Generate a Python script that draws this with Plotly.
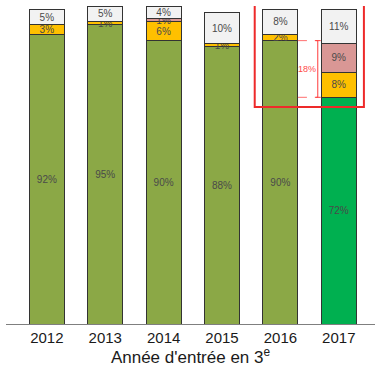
import plotly.graph_objects as go

# Year of entry into 3e
years = ["2012", "2013", "2014", "2015", "2016", "2017"]

# Share of each outcome per cohort (%)
main_old = [92, 95, 90, 88, 90, None]      # olive green (2012-2016)
main_new = [None, None, None, None, None, 72]  # bright green (2017)
yellow = [3, 1, 6, 1, 2, 8]
pink = [None, None, 1, None, None, 9]
white = [5, 5, 4, 10, 8, 11]

gap_top = 90      # 2016 main share
gap_bottom = 72   # 2017 main share
gap_label = "18%"

series = [
    (main_old, "#8BA846"),
    (main_new, "#00B050"),
    (yellow, "#FFC000"),
    (pink, "#D99795"),
    (white, "#F2F2F2"),
]

FONT = "Liberation Sans, Arial, sans-serif"

fig = go.Figure()
for vals, color in series:
    fig.add_trace(go.Bar(
        x=years, y=vals,
        marker=dict(color=color, line=dict(color="#333333", width=1)),
        width=0.6,
        text=[f"{v}%" if v is not None else "" for v in vals],
        textposition="inside",
        insidetextanchor="middle",
        textangle=0,
        textfont=dict(family=FONT, size=10, color="#4A4A4A"),
        cliponaxis=False,
        hoverinfo="skip",
        showlegend=False,
    ))

# Bracket showing the drop between 2016 and 2017
dash_col = "#FF6F6F"
x_left = 4.3
x_mid = 4.64
for yv in (gap_top, gap_bottom):
    fig.add_shape(type="line", x0=x_left, x1=x_mid, y0=yv, y1=yv,
                  line=dict(color=dash_col, width=1, dash="dash"))
fig.add_shape(type="line", x0=x_mid, x1=x_mid, y0=gap_bottom, y1=gap_top,
              line=dict(color="#FF3B3B", width=1))
for yv in (gap_top, gap_bottom):
    fig.add_shape(type="line", x0=x_mid - 0.05, x1=x_mid + 0.05, y0=yv, y1=yv,
                  line=dict(color="#FF3B3B", width=1))
fig.add_annotation(x=4.45, y=(gap_top + gap_bottom) / 2, text=gap_label,
                   showarrow=False,
                   font=dict(family=FONT, size=9, color="#FF4A4A"))

# Highlight frame around the last two cohorts
fig.add_shape(type="rect", x0=3.56, x1=5.43, y0=68.9, y1=101.3,
              line=dict(color="#EE2A2A", width=2))

fig.update_layout(
    barmode="stack",
    width=375, height=367,
    margin=dict(l=6, r=0, t=6, b=43),
    paper_bgcolor="white", plot_bgcolor="white",
    uniformtext=dict(minsize=10, mode="show"),
    xaxis=dict(
        type="category",
        range=[-0.70, 5.62],
        showline=True, linecolor="#7F7F7F", linewidth=1,
        ticks="", showgrid=False,
        tickfont=dict(family=FONT, size=15, color="#1A1A1A"),
        title=dict(text="Année d'entrée en 3<sup>e</sup>",
                   font=dict(family=FONT, size=17, color="#1A1A1A"),
                   standoff=2),
    ),
    yaxis=dict(range=[0, 101], visible=False),
)

fig.write_html("out.html")
